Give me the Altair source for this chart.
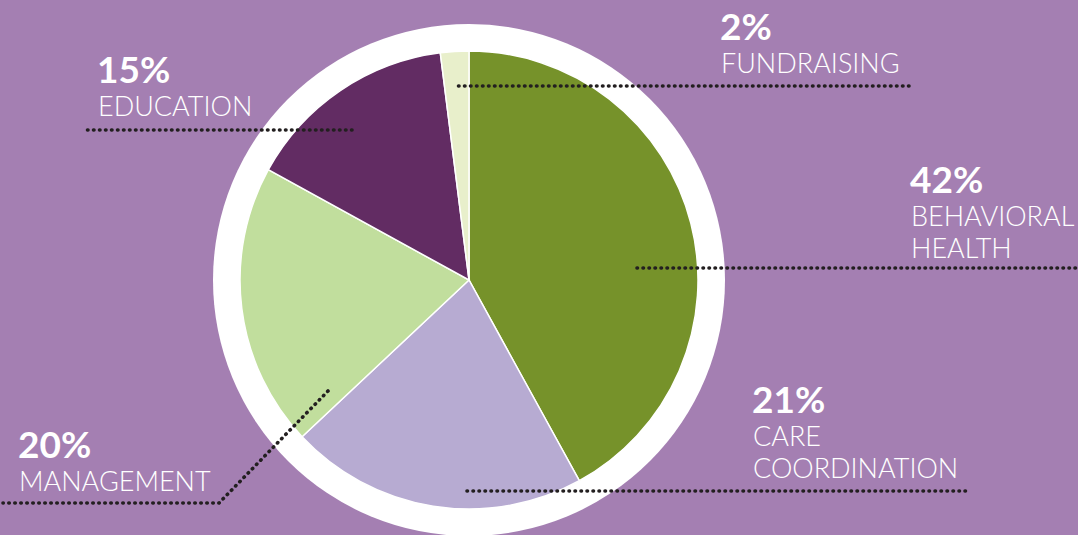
import altair as alt
import pandas as pd

# ---- data ----
categories = ["Behavioral Health", "Care Coordination", "Management", "Education", "Fundraising"]
values = [42, 21, 20, 15, 2]
colors = ["#76922A", "#B7ABD2", "#C1DE9D", "#622C63", "#E8EFCB"]

pct_labels = ["42%", "21%", "20%", "15%", "2%"]
name_lines = [["BEHAVIORAL", "HEALTH"], ["CARE", "COORDINATION"], ["MANAGEMENT"], ["EDUCATION"], ["FUNDRAISING"]]

# ---- layout (annotation positions, pixel space) ----
W, H = 1078, 535
CX, CY, R, RING = 469, 280, 229, 256
label_xy = [(910, 193), (752, 413), (18, 458), (97, 83), (720, 40)]
line_gap = 32
leaders = [
    [(637, 268), (1078, 268)],
    [(467, 491), (970, 491)],
    [(328, 391), (219, 503), (3, 503)],
    [(352, 130), (84, 130)],
    [(909, 86), (455, 86)],
]

pie_df = pd.DataFrame({"category": categories, "value": values, "order": list(range(len(values)))})

pct_rows, name_rows, line_rows = [], [], []
for i, cat in enumerate(categories):
    lx, ly = label_xy[i]
    pct_rows.append({"x": lx, "y": ly, "text": pct_labels[i]})
    for j, t in enumerate(name_lines[i]):
        name_rows.append({"x": lx + 1, "y": ly + line_gap * (j + 1) + 1, "text": t})
    for k, (px, py) in enumerate(leaders[i]):
        line_rows.append({"id": cat, "k": k, "x": px, "y": py})

xs = alt.Scale(domain=[0, W], range=[0, W])
ys = alt.Scale(domain=[0, H], range=[0, H])

ring = alt.Chart(pd.DataFrame({"v": [1]})).mark_arc(
    color="white", radius=RING, theta=0, theta2=6.2832
).encode(
    x=alt.value(CX), y=alt.value(CY),
)

pie = alt.Chart(pie_df).mark_arc(radius=R, stroke="white", strokeWidth=1.5).encode(
    theta=alt.Theta("value:Q", stack=True),
    order=alt.Order("order:Q"),
    color=alt.Color("category:N", scale=alt.Scale(domain=categories, range=colors), legend=None),
    x=alt.value(CX), y=alt.value(CY),
)

lines = alt.Chart(pd.DataFrame(line_rows)).mark_line(
    color="#231F20", strokeWidth=3.6, strokeDash=[0.5, 5.5], strokeCap="round"
).encode(
    x=alt.X("x:Q", scale=xs, axis=None),
    y=alt.Y("y:Q", scale=ys, axis=None),
    detail="id:N",
    order="k:Q",
)

pct = alt.Chart(pd.DataFrame(pct_rows)).mark_text(
    align="left", baseline="alphabetic", font="Lato", fontWeight="bold", fontSize=37, color="white"
).encode(
    x=alt.X("x:Q", scale=xs, axis=None),
    y=alt.Y("y:Q", scale=ys, axis=None),
    text="text:N",
)

names = alt.Chart(pd.DataFrame(name_rows)).mark_text(
    align="left", baseline="alphabetic", font="Lato", fontWeight=300, fontSize=27, color="white"
).encode(
    x=alt.X("x:Q", scale=xs, axis=None),
    y=alt.Y("y:Q", scale=ys, axis=None),
    text="text:N",
)

chart = alt.layer(ring, pie, lines, pct, names).properties(
    width=W, height=H, padding=0, autosize=alt.AutoSizeParams(type="none"), background="#A47FB2"
).configure_view(stroke=None)

chart.save("out.html", embed_options={"renderer": "svg", "actions": False})
